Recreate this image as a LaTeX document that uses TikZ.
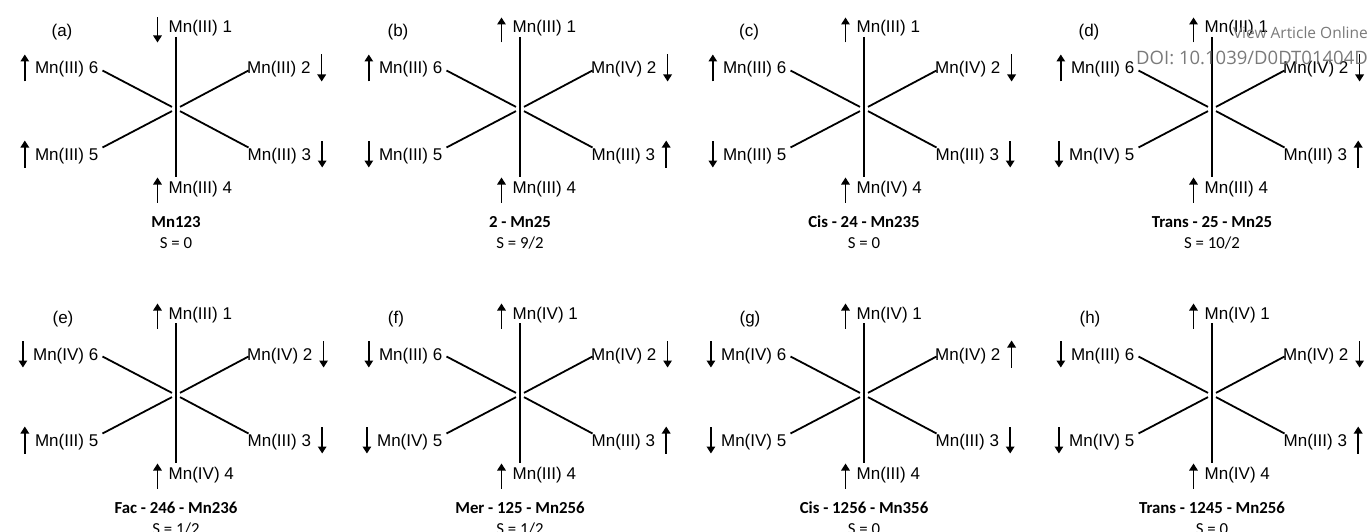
\documentclass[tikz,border=0pt]{standalone}
\usepackage{fontspec}
\setmainfont{Liberation Sans}
\newfontfamily\capfont{Carlito}
\newfontfamily\wmfont{Open Sans}
\usetikzlibrary{calc,arrows.meta}

% bonds of one octahedral site diagram, drawn round the origin of the current scope
\newcommand\bonds[1]{%
  \coordinate (#1-c)  at (0,0);
  \coordinate (#1-b1) at (0,-72);
  \coordinate (#1-b4) at (0,68);
  \coordinate (#1-b2) at (72.5,-38.5);
  \coordinate (#1-b3) at (72.5,38.5);
  \coordinate (#1-b5) at (-73.5,38.5);
  \coordinate (#1-b6) at (-73.5,-38.5);
  \draw[bond] (#1-b1) -- (#1-b4);
  \foreach \k in {2,3,5,6}
    \draw[bond] ($(#1-c)!4.5pt!(#1-b\k)$) -- (#1-b\k);
}

% one Mn site: #1 panel id, #2 site number, #3 oxidation state, #4 spin style
\newcommand\site[4]{%
  \ifcase#2\or
    \node[lab,anchor=base west] (#1-#2) at (-7.5,-76) {Mn(#3) #2};
    \draw[#4] ($(#1-#2.base west)+(-11,9.5)$) -- ++(0,-25);
  \or
    \node[lab,anchor=base west] (#1-#2) at (71,-35) {Mn(#3) #2};
    \draw[#4] ($(#1-#2.base east)+(11,7.5)$) -- ++(0,-27);
  \or
    \node[lab,anchor=base west] (#1-#2) at (71.5,51) {Mn(#3) #2};
    \draw[#4] ($(#1-#2.base east)+(11,7.5)$) -- ++(0,-27);
  \or
    \node[lab,anchor=base west] (#1-#2) at (-7.5,84) {Mn(#3) #2};
    \draw[#4] ($(#1-#2.base west)+(-11,9.5)$) -- ++(0,-25);
  \or
    \node[lab,anchor=base east] (#1-#2) at (-77.5,51) {Mn(#3) #2};
    \draw[#4] ($(#1-#2.base west)+(-10,7.5)$) -- ++(0,-27);
  \or
    \node[lab,anchor=base east] (#1-#2) at (-77.5,-35) {Mn(#3) #2};
    \draw[#4] ($(#1-#2.base west)+(-10,7.5)$) -- ++(0,-27);
  \fi}

% panel letter and the two caption lines
\newcommand\labels[5]{%
  \node[lab,anchor=base] (#1-tag) at (#2,-72) {(#1)};
  \node[captext,anchor=base] (#1-name) at (0,118.5) {\bfseries #4};
  \node[captext,anchor=base] (#1-spin) at (0,139) {#5};
}

\begin{document}
\begin{tikzpicture}[x=1pt,y=-1pt,
  bond/.style={line width=1.8pt},
  lab/.style={inner sep=0pt,font=\fontsize{17}{20}\selectfont},
  captext/.style={inner sep=0pt,font=\capfont\fontsize{16.8}{20}\selectfont},
  spinarrow/.style={line width=1.5pt},
  su/.style={spinarrow,-{Triangle[width=8.5pt,length=7pt]}},
  sd/.style={spinarrow,{Triangle[width=8.5pt,length=7pt]}-},
  wm/.style={inner sep=0pt,text=black!52,anchor=base east}]
\useasboundingbox (0,0) rectangle (1372,532);

% (a)
\begin{scope}[shift={(176,109)}]
  \bonds{a}
  \site{a}{1}{III}{sd} \site{a}{2}{III}{sd} \site{a}{3}{III}{sd}
  \site{a}{4}{III}{su} \site{a}{5}{III}{su} \site{a}{6}{III}{su}
  \labels{a}{-114}{}{Mn123}{S = 0}
\end{scope}

% (b)
\begin{scope}[shift={(520,109)}]
  \bonds{b}
  \site{b}{1}{III}{su} \site{b}{2}{IV}{sd} \site{b}{3}{III}{su}
  \site{b}{4}{III}{su} \site{b}{5}{III}{sd} \site{b}{6}{III}{su}
  \labels{b}{-122}{}{2 - Mn25}{S = 9/2}
\end{scope}

% (c)
\begin{scope}[shift={(864,109)}]
  \bonds{c}
  \site{c}{1}{III}{su} \site{c}{2}{IV}{sd} \site{c}{3}{III}{sd}
  \site{c}{4}{IV}{su} \site{c}{5}{III}{sd} \site{c}{6}{III}{su}
  \labels{c}{-115}{}{Cis - 24 - Mn235}{S = 0}
\end{scope}

% (d)
\begin{scope}[shift={(1212,109)}]
  \bonds{d}
  \site{d}{1}{III}{su} \site{d}{2}{IV}{sd} \site{d}{3}{III}{su}
  \site{d}{4}{III}{su} \site{d}{5}{IV}{sd} \site{d}{6}{III}{su}
  \labels{d}{-123}{}{Trans - 25 - Mn25}{S = 10/2}
\end{scope}

% (e)
\begin{scope}[shift={(176,395)}]
  \bonds{e}
  \site{e}{1}{III}{su} \site{e}{2}{IV}{sd} \site{e}{3}{III}{sd}
  \site{e}{4}{IV}{su} \site{e}{5}{III}{su} \site{e}{6}{IV}{sd}
  \labels{e}{-113}{}{Fac - 246 - Mn236}{S = 1/2}
\end{scope}

% (f)
\begin{scope}[shift={(520,395)}]
  \bonds{f}
  \site{f}{1}{IV}{su} \site{f}{2}{IV}{sd} \site{f}{3}{III}{su}
  \site{f}{4}{III}{su} \site{f}{5}{IV}{sd} \site{f}{6}{III}{sd}
  \labels{f}{-124}{}{Mer - 125 - Mn256}{S = 1/2}
\end{scope}

% (g)
\begin{scope}[shift={(864,395)}]
  \bonds{g}
  \site{g}{1}{IV}{su} \site{g}{2}{IV}{su} \site{g}{3}{III}{sd}
  \site{g}{4}{III}{su} \site{g}{5}{IV}{sd} \site{g}{6}{IV}{sd}
  \labels{g}{-114}{}{Cis - 1256 - Mn356}{S = 0}
\end{scope}

% (h)
\begin{scope}[shift={(1212,395)}]
  \bonds{h}
  \site{h}{1}{IV}{su} \site{h}{2}{IV}{sd} \site{h}{3}{III}{su}
  \site{h}{4}{IV}{su} \site{h}{5}{IV}{sd} \site{h}{6}{III}{sd}
  \labels{h}{-122}{}{Trans - 1245 - Mn256}{S = 0}
\end{scope}

% publisher stamp
\node[wm,font=\wmfont\fontsize{15.5}{18}\selectfont] (stamp1) at (1368,39) {View Article Online};
\node[wm,font=\wmfont\fontsize{18.5}{22}\selectfont] (stamp2) at (1368,65) {DOI: 10.1039/D0DT01404D};
\end{tikzpicture}
\end{document}
